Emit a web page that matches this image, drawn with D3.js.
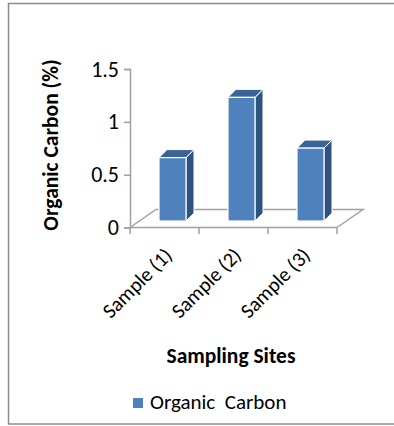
<!DOCTYPE html>
<html lang="en">
<head>
    <meta charset="UTF-8">
    <title>Organic Carbon</title>
    <script src="https://d3js.org/d3.v7.min.js"></script>
    <style>
        body { margin: 0; background: #fff; }
        svg { display: block; font-family: Carlito, "Open Sans", sans-serif; }
    </style>
    <script>
        const categories = ["Sample (1)", "Sample (2)", "Sample (3)"];
        const organicCarbon = [0.6, 1.17, 0.69];
        const yTicks = [0, 0.5, 1, 1.5];
        const seriesName = "Organic  Carbon";

        document.addEventListener("DOMContentLoaded", function() {
            drawChart();
        });

        function drawChart() {
            const width = 394, height = 426;
            const svg = d3.select("svg").attr("width", width).attr("height", height);
            const font = "Carlito, 'Open Sans', sans-serif";

            // outer frame
            svg.append("rect")
                .attr("x", 8.5).attr("y", 3.5)
                .attr("width", 400).attr("height", 420.5)
                .attr("fill", "none").attr("stroke", "#8c8c8c").attr("stroke-width", 1.5);

            const x = d3.scaleBand().domain(categories).range([130, 337]).padding(0);
            const y = d3.scaleLinear().domain([0, 1.5]).range([227.5, 69]);

            // 3d depth offsets
            const floorDx = 26, floorDy = -18;
            const barShiftX = 8, barShiftY = -6.5;
            const sideDx = 8, sideDy = -8;
            const barW = 27;

            const axisColor = "#a0a0a0";

            // floor
            const x0 = x.range()[0], x1 = x.range()[1], yf = y(0);
            svg.append("path")
                .attr("d", `M${x0},${yf} L${x0 + floorDx},${yf + floorDy} L${x1 + floorDx},${yf + floorDy} L${x1},${yf}`)
                .attr("fill", "none").attr("stroke", axisColor).attr("stroke-width", 1.5);

            // x ticks at band edges
            const edges = categories.map(c => x(c)).concat([x1]);
            svg.selectAll(".xtick").data(edges).enter().append("line")
                .attr("x1", d => d).attr("x2", d => d)
                .attr("y1", yf).attr("y2", yf + 6.5)
                .attr("stroke", axisColor).attr("stroke-width", 1.5);

            // y axis
            const yAxis = svg.append("g")
                .attr("transform", `translate(${x0},0)`)
                .call(d3.axisLeft(y).tickValues(yTicks).tickFormat(d => String(d)).tickSize(6).tickPadding(5));
            yAxis.select(".domain").attr("stroke", axisColor).attr("stroke-width", 1.5);
            yAxis.selectAll(".tick line").attr("stroke", axisColor).attr("stroke-width", 1.5);
            yAxis.selectAll(".tick text")
                .style("font-size", "22px").style("font-family", font).attr("fill", "#000");

            // front floor line
            svg.append("line")
                .attr("x1", x0).attr("x2", x1).attr("y1", yf).attr("y2", yf)
                .attr("stroke", axisColor).attr("stroke-width", 1.5);

            // bars
            const bars = svg.selectAll(".bar").data(categories.map((c, i) => ({cat: c, v: organicCarbon[i]})))
                .enter().append("g").attr("class", "bar");

            const bx = d => x(d.cat) + (x.bandwidth() - barW) / 2 + barShiftX;
            const by0 = yf + barShiftY;
            const byTop = d => by0 - (y(0) - y(d.v));

            bars.append("path") // side
                .attr("d", d => {
                    const r = bx(d) + barW, t = byTop(d);
                    return `M${r},${by0} L${r + sideDx},${by0 + sideDy} L${r + sideDx},${t + sideDy} L${r},${t} Z`;
                })
                .attr("fill", "#2f5280").attr("stroke", "#fff").attr("stroke-width", 1).attr("stroke-linejoin", "round");

            bars.append("path") // top
                .attr("d", d => {
                    const l = bx(d), t = byTop(d);
                    return `M${l},${t} L${l + sideDx},${t + sideDy} L${l + barW + sideDx},${t + sideDy} L${l + barW},${t} Z`;
                })
                .attr("fill", "#3a6396").attr("stroke", "#fff").attr("stroke-width", 1).attr("stroke-linejoin", "round");

            bars.append("rect") // front
                .attr("x", bx).attr("y", byTop)
                .attr("width", barW).attr("height", d => by0 - byTop(d))
                .attr("fill", "#4f81bd").attr("stroke", "#fff").attr("stroke-width", 1.2);

            // category labels
            svg.selectAll(".xlabel").data(categories).enter().append("text")
                .attr("transform", d => `translate(${x(d) + x.bandwidth() / 2 + 9},${yf + 29}) rotate(-45)`)
                .attr("text-anchor", "end")
                .style("font-size", "20.5px")
                .text(d => d);

            // axis titles
            svg.append("text")
                .attr("transform", "translate(58,145) rotate(-90)")
                .attr("text-anchor", "middle")
                .style("font-size", "21.5px").style("font-weight", "bold")
                .text("Organic Carbon (%)");

            svg.append("text")
                .attr("x", 231).attr("y", 363)
                .attr("text-anchor", "middle")
                .style("font-size", "21.5px").style("font-weight", "bold")
                .text("Sampling Sites");

            // legend
            svg.append("rect")
                .attr("x", 133).attr("y", 398).attr("width", 10).attr("height", 10)
                .attr("fill", "#4f81bd");
            svg.append("text")
                .attr("x", 150).attr("y", 409)
                .style("font-size", "21px")
                .attr("xml:space", "preserve")
                .text(seriesName);
        }
    </script>
</head>
<body>
    <svg id="chart"></svg>
</body>
</html>
